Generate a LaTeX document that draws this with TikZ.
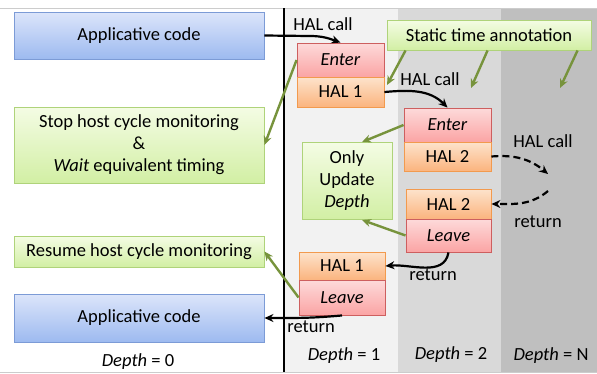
\documentclass[tikz,border=0pt]{standalone}
\usepackage{fontspec}
\setmainfont{Carlito}
\usetikzlibrary{arrows.meta}

\definecolor{bluetop}{HTML}{DCE5FA}
\definecolor{bluebot}{HTML}{9DBAF0}
\definecolor{blueline}{HTML}{7C9BD6}
\definecolor{greentop}{HTML}{F4FCE4}
\definecolor{greenbot}{HTML}{D2EFA4}
\definecolor{greenline}{HTML}{AFD37A}
\definecolor{redtop}{HTML}{FDDADA}
\definecolor{redbot}{HTML}{FBA4A4}
\definecolor{redline}{HTML}{CD5F5F}
\definecolor{orangetop}{HTML}{FDE3CC}
\definecolor{orangebot}{HTML}{FBB47E}
\definecolor{orangeline}{HTML}{F29A4E}
\definecolor{greenarrow}{HTML}{77933C}

\begin{document}
\begin{tikzpicture}[x=1pt,y=-1pt,>={Stealth[length=9pt,width=8pt]}]
    \tikzstyle{box}=[rectangle,line width=0.9pt,inner sep=2pt,font=\fontsize{18.5}{22}\selectfont]
    \tikzstyle{code}=[box,draw=blueline,top color=bluetop,bottom color=bluebot,minimum width=250pt]
    \tikzstyle{note}=[box,draw=greenline,top color=greentop,bottom color=greenbot,align=center]
    \tikzstyle{hook}=[box,draw=redline,top color=redtop,bottom color=redbot]
    \tikzstyle{hal}=[box,draw=orangeline,top color=orangetop,bottom color=orangebot]
    \tikzstyle{call}=[->,line width=2.2pt]
    \tikzstyle{link}=[->,draw=greenarrow,line width=2.4pt]
    \tikzstyle{lbl}=[font=\fontsize{18.5}{22}\selectfont,inner sep=0pt]

    \useasboundingbox (0,0) rectangle (597,373);

    % Depth columns
    \fill[black!5] (284,8) rectangle (398,372);
    \fill[black!15] (398,8) rectangle (501,372);
    \fill[black!25] (501,8) rectangle (597,372);
    \draw[black!20,line width=0.6pt] (0,8) -- (597,8);
    \draw[black!20,line width=0.6pt] (0,372) -- (597,372);
    \draw[line width=2.4pt] (284,8) -- (284,372);

    % Host side
    \node[code,minimum height=47pt] (app1) at (139,35.5) {Applicative code};
    \node[note,minimum width=250pt,minimum height=76pt] (stop) at (139,145)
        {Stop host cycle monitoring\\\&\\\textit{Wait} equivalent timing};
    \node[note,minimum width=250pt,minimum height=31pt] (resume) at (139,251.5) {Resume host cycle monitoring};
    \node[code,minimum height=48pt] (app2) at (139,318) {Applicative code};

    % HAL calls
    \node[hook,minimum width=87pt,minimum height=34pt] (enter1) at (340.5,60) {\textit{Enter}};
    \node[hal,minimum width=87pt,minimum height=30pt] (hal1) at (340.5,92) {HAL 1};
    \node[hook,minimum width=87pt,minimum height=34pt] (enter2) at (447.5,125) {\textit{Enter}};
    \node[hal,minimum width=87pt,minimum height=29pt] (hal2) at (447.5,156.5) {HAL 2};

    % HAL returns
    \node[hal,minimum width=85pt,minimum height=30pt] (hal2r) at (448.5,204) {HAL 2};
    \node[hook,minimum width=85pt,minimum height=33pt] (leave2) at (448.5,235.5) {\textit{Leave}};
    \node[hal,minimum width=86pt,minimum height=28pt] (hal1r) at (342,266) {HAL 1};
    \node[hook,minimum width=86pt,minimum height=35pt] (leave1) at (342,297.5) {\textit{Leave}};

    % Annotations
    \node[note,minimum width=90pt,minimum height=77pt] (only) at (347,181) {Only\\Update\\\textit{Depth}};
    \node[note,minimum width=204pt,minimum height=30pt] (static) at (489,35) {Static time annotation};

    % Free ends
    \coordinate (deep) at (548,174);
    \coordinate (back) at (548,191);
    \coordinate (t1) at (387,85);
    \coordinate (t2) at (471,88);
    \coordinate (t3) at (560,88);

    % Call and return arrows
    \draw[call] (app1.east) -- (310,36) to[out=0,in=160] (enter1.north);
    \draw[call] (hal1.east) to[out=5,in=135] (enter2.north);
    \draw[call,dash pattern=on 7pt off 4pt] (hal2.east) to[out=5,in=140] (deep);
    \draw[call,dash pattern=on 7pt off 4pt] (back) to[out=-140,in=0] (hal2r.east);
    \draw[call] (leave2.south) to[out=-100,in=5] (hal1r.east);
    \draw[call] (leave1.south) to[out=-175,in=0] (284,318) -- (app2.east);

    % Annotation arrows
    \draw[link] (enter1.west) -- (stop.east);
    \draw[link] ([xshift=19pt]static.south west) -- (t1);
    \draw[link] ([xshift=101pt]static.south west) -- (t2);
    \draw[link] ([xshift=191pt]static.south west) -- (t3);
    \draw[link] (enter2.west) -- ([xshift=15pt]only.north);
    \draw[link] (leave2.west) -- ([xshift=15pt]only.south);
    \draw[link] (leave1.west) -- (resume.east);

    % Labels
    \node[lbl] (l1) at (323,24) {HAL call};
    \node[lbl] (l2) at (430,79) {HAL call};
    \node[lbl] (l3) at (543,141) {HAL call};
    \node[lbl] (l4) at (538,222) {return};
    \node[lbl] (l5) at (433,275) {return};
    \node[lbl] (l6) at (311,327) {return};
    \node[lbl] (d0) at (138,362) {\textit{Depth} = 0};
    \node[lbl] (d1) at (344,356) {\textit{Depth} = 1};
    \node[lbl] (d2) at (451,355) {\textit{Depth} = 2};
    \node[lbl] (dn) at (551,356) {\textit{Depth} = N};

\end{tikzpicture}
\end{document}
